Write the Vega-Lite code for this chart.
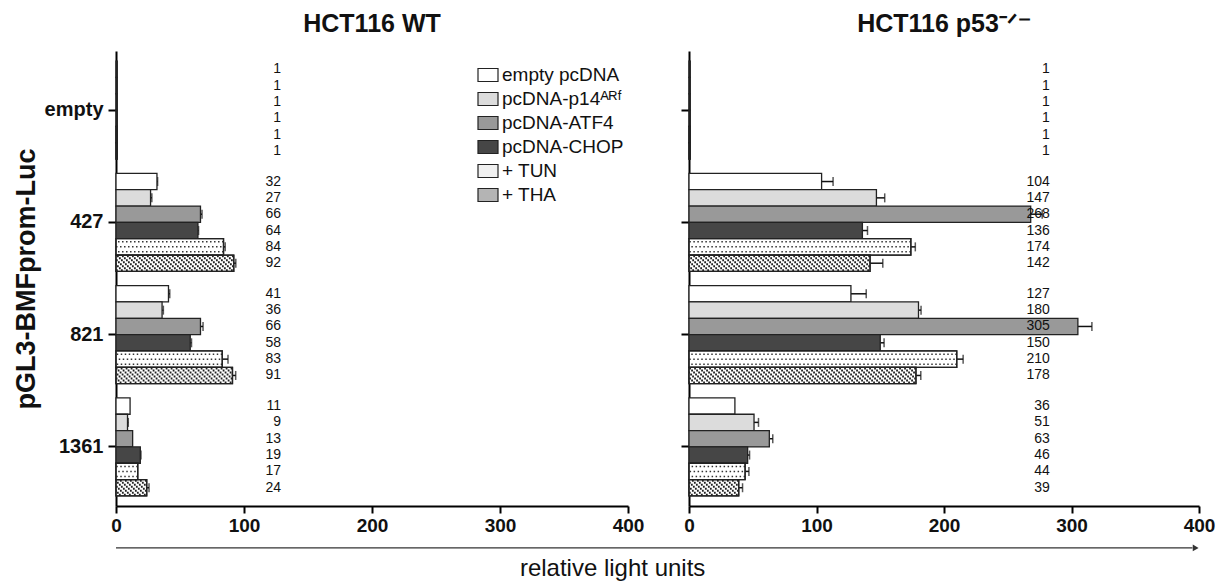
{
  "$schema": "https://vega.github.io/schema/vega-lite/v6.json",
  "padding": {"left": 12, "top": 12, "right": 5, "bottom": 0},
  "config": {"font": "Liberation Sans", "view": {"stroke": null}},
  "datasets": {
    "d": [
      {"c": "WT", "p": "empty", "t": "empty pcDNA", "v": 1, "hi": 1},
      {"c": "WT", "p": "empty", "t": "pcDNA-p14ᴬᴿᶠ", "v": 1, "hi": 1},
      {"c": "WT", "p": "empty", "t": "pcDNA-ATF4", "v": 1, "hi": 1},
      {"c": "WT", "p": "empty", "t": "pcDNA-CHOP", "v": 1, "hi": 1},
      {"c": "WT", "p": "empty", "t": "+ TUN", "v": 1, "hi": 1},
      {"c": "WT", "p": "empty", "t": "+ THA", "v": 1, "hi": 1},
      {"c": "WT", "p": "427", "t": "empty pcDNA", "v": 32, "hi": 32.5},
      {"c": "WT", "p": "427", "t": "pcDNA-p14ᴬᴿᶠ", "v": 27, "hi": 28},
      {"c": "WT", "p": "427", "t": "pcDNA-ATF4", "v": 66, "hi": 67.2},
      {"c": "WT", "p": "427", "t": "pcDNA-CHOP", "v": 64, "hi": 64.5},
      {"c": "WT", "p": "427", "t": "+ TUN", "v": 84, "hi": 85.3},
      {"c": "WT", "p": "427", "t": "+ THA", "v": 92, "hi": 93.6},
      {"c": "WT", "p": "821", "t": "empty pcDNA", "v": 41, "hi": 42},
      {"c": "WT", "p": "821", "t": "pcDNA-p14ᴬᴿᶠ", "v": 36, "hi": 37},
      {"c": "WT", "p": "821", "t": "pcDNA-ATF4", "v": 66, "hi": 68},
      {"c": "WT", "p": "821", "t": "pcDNA-CHOP", "v": 58, "hi": 59},
      {"c": "WT", "p": "821", "t": "+ TUN", "v": 83, "hi": 87.5},
      {"c": "WT", "p": "821", "t": "+ THA", "v": 91, "hi": 93.5},
      {"c": "WT", "p": "1361", "t": "empty pcDNA", "v": 11, "hi": 11},
      {"c": "WT", "p": "1361", "t": "pcDNA-p14ᴬᴿᶠ", "v": 9, "hi": 9.6},
      {"c": "WT", "p": "1361", "t": "pcDNA-ATF4", "v": 13, "hi": 13},
      {"c": "WT", "p": "1361", "t": "pcDNA-CHOP", "v": 19, "hi": 19.5},
      {"c": "WT", "p": "1361", "t": "+ TUN", "v": 17, "hi": 17},
      {"c": "WT", "p": "1361", "t": "+ THA", "v": 24, "hi": 25.8},
      {"c": "p53", "p": "empty", "t": "empty pcDNA", "v": 1, "hi": 1},
      {"c": "p53", "p": "empty", "t": "pcDNA-p14ᴬᴿᶠ", "v": 1, "hi": 1},
      {"c": "p53", "p": "empty", "t": "pcDNA-ATF4", "v": 1, "hi": 1},
      {"c": "p53", "p": "empty", "t": "pcDNA-CHOP", "v": 1, "hi": 1},
      {"c": "p53", "p": "empty", "t": "+ TUN", "v": 1, "hi": 1},
      {"c": "p53", "p": "empty", "t": "+ THA", "v": 1, "hi": 1},
      {"c": "p53", "p": "427", "t": "empty pcDNA", "v": 104, "hi": 113},
      {"c": "p53", "p": "427", "t": "pcDNA-p14ᴬᴿᶠ", "v": 147, "hi": 153.5},
      {"c": "p53", "p": "427", "t": "pcDNA-ATF4", "v": 268, "hi": 277},
      {"c": "p53", "p": "427", "t": "pcDNA-CHOP", "v": 136, "hi": 140},
      {"c": "p53", "p": "427", "t": "+ TUN", "v": 174, "hi": 177.5},
      {"c": "p53", "p": "427", "t": "+ THA", "v": 142, "hi": 152},
      {"c": "p53", "p": "821", "t": "empty pcDNA", "v": 127, "hi": 139},
      {"c": "p53", "p": "821", "t": "pcDNA-p14ᴬᴿᶠ", "v": 180, "hi": 182},
      {"c": "p53", "p": "821", "t": "pcDNA-ATF4", "v": 305, "hi": 316},
      {"c": "p53", "p": "821", "t": "pcDNA-CHOP", "v": 150, "hi": 153},
      {"c": "p53", "p": "821", "t": "+ TUN", "v": 210, "hi": 215},
      {"c": "p53", "p": "821", "t": "+ THA", "v": 178, "hi": 181.8},
      {"c": "p53", "p": "1361", "t": "empty pcDNA", "v": 36, "hi": 36},
      {"c": "p53", "p": "1361", "t": "pcDNA-p14ᴬᴿᶠ", "v": 51, "hi": 54.5},
      {"c": "p53", "p": "1361", "t": "pcDNA-ATF4", "v": 63, "hi": 65.7},
      {"c": "p53", "p": "1361", "t": "pcDNA-CHOP", "v": 46, "hi": 47.5},
      {"c": "p53", "p": "1361", "t": "+ TUN", "v": 44, "hi": 47},
      {"c": "p53", "p": "1361", "t": "+ THA", "v": 39, "hi": 42}
    ]
  },
  "spacing": 61,
  "bounds": "flush",
  "resolve": {"scale": {"fill": "independent"}, "legend": {"fill": "independent"}},
  "hconcat": [
    {
      "width": 512, "height": 455,
      "data": {"name": "d"},
      "transform": [{"filter": "datum.c === 'WT'"}],
      "title": {"text": "HCT116 WT", "fontSize": 25, "fontWeight": "bold", "frame": "group", "offset": 14, "color": "#111"},
      "layer": [
        {"transform": [{"filter": "datum.hi > datum.v + 0.3"}],
         "mark": {"type": "rule", "color": "#111", "strokeWidth": 1.5},
         "encoding": {
           "y": {"field": "p", "type": "nominal", "scale": {"domain": ["empty", "427", "821", "1361"], "paddingInner": 0.127, "paddingOuter": 0.09}},
           "x": {"field": "v", "type": "quantitative", "scale": {"domain": [0, 400], "nice": false}}, "x2": {"field": "hi"},
           "yOffset": {"field": "t", "type": "nominal", "scale": {"domain": ["empty pcDNA", "pcDNA-p14ᴬᴿᶠ", "pcDNA-ATF4", "pcDNA-CHOP", "+ TUN", "+ THA"], "paddingInner": 0, "paddingOuter": 0}}}},
        {"transform": [{"filter": "datum.hi > datum.v + 0.3"}],
         "mark": {"type": "tick", "orient": "vertical", "color": "#111", "thickness": 1.5, "size": 9},
         "encoding": {
           "y": {"field": "p", "type": "nominal", "scale": {"domain": ["empty", "427", "821", "1361"], "paddingInner": 0.127, "paddingOuter": 0.09}},
           "x": {"field": "hi", "type": "quantitative"},
           "yOffset": {"field": "t", "type": "nominal", "scale": {"domain": ["empty pcDNA", "pcDNA-p14ᴬᴿᶠ", "pcDNA-ATF4", "pcDNA-CHOP", "+ TUN", "+ THA"], "paddingInner": 0, "paddingOuter": 0}}}},
        {"mark": {"type": "bar", "stroke": "#222", "strokeWidth": 1.3},
         "encoding": {
           "y": {"field": "p", "type": "nominal", "scale": {"domain": ["empty", "427", "821", "1361"], "paddingInner": 0.127, "paddingOuter": 0.09},
             "axis": {"title": "pGL3-BMFprom-Luc", "titleFontSize": 27, "titleFontWeight": "bold", "titleColor": "#111", "titlePadding": 4, "labelFontSize": 20, "labelFontWeight": "bold", "labelColor": "#111", "labelPadding": 5, "tickSize": 8, "tickWidth": 2, "tickColor": "#000", "domainColor": "#000", "domainWidth": 2, "grid": false}},
           "x": {"field": "v", "type": "quantitative", "scale": {"domain": [0, 400], "nice": false},
             "axis": {"values": [0, 100, 200, 300, 400], "title": null, "grid": false, "labelFontSize": 19, "labelFontWeight": "bold", "labelColor": "#111", "labelPadding": 3, "tickSize": 7, "tickWidth": 2, "tickColor": "#000", "domainColor": "#000", "domainWidth": 2, "labelFlush": false}},
           "yOffset": {"field": "t", "type": "nominal", "scale": {"domain": ["empty pcDNA", "pcDNA-p14ᴬᴿᶠ", "pcDNA-ATF4", "pcDNA-CHOP", "+ TUN", "+ THA"], "paddingInner": 0, "paddingOuter": 0}},
           "fill": {"condition": [
             {"test": "datum.t === 'pcDNA-p14ᴬᴿᶠ'", "value": "#dcdcdc"},
             {"test": "datum.t === 'pcDNA-ATF4'", "value": "#999999"},
             {"test": "datum.t === 'pcDNA-CHOP'", "value": "#464646"}], "value": "#ffffff"}
         }},
        {"transform": [{"filter": "datum.t === '+ TUN' && datum.v > 1"}], "mark": {"type": "rule", "color": "#333", "strokeWidth": 1.5, "strokeDash": [1.5, 2.5], "strokeDashOffset": 0, "yOffset": 19.5}, "encoding": {"y": {"field": "p", "type": "nominal", "scale": {"domain": ["empty", "427", "821", "1361"], "paddingInner": 0.127, "paddingOuter": 0.09}}, "x": {"field": "v", "type": "quantitative"}, "x2": {"datum": 0}}},
        {"transform": [{"filter": "datum.t === '+ TUN' && datum.v > 1"}], "mark": {"type": "rule", "color": "#333", "strokeWidth": 1.5, "strokeDash": [1.5, 2.5], "strokeDashOffset": 2, "yOffset": 24.5}, "encoding": {"y": {"field": "p", "type": "nominal", "scale": {"domain": ["empty", "427", "821", "1361"], "paddingInner": 0.127, "paddingOuter": 0.09}}, "x": {"field": "v", "type": "quantitative"}, "x2": {"datum": 0}}},
        {"transform": [{"filter": "datum.t === '+ TUN' && datum.v > 1"}], "mark": {"type": "rule", "color": "#333", "strokeWidth": 1.5, "strokeDash": [1.5, 2.5], "strokeDashOffset": 0, "yOffset": 29.5}, "encoding": {"y": {"field": "p", "type": "nominal", "scale": {"domain": ["empty", "427", "821", "1361"], "paddingInner": 0.127, "paddingOuter": 0.09}}, "x": {"field": "v", "type": "quantitative"}, "x2": {"datum": 0}}},
        {"transform": [{"filter": "datum.t === '+ THA' && datum.v > 1"}], "mark": {"type": "rule", "color": "#222", "strokeWidth": 2.05, "strokeDash": [1.8, 3.2], "strokeDashOffset": 0, "yOffset": 33.8}, "encoding": {"y": {"field": "p", "type": "nominal", "scale": {"domain": ["empty", "427", "821", "1361"], "paddingInner": 0.127, "paddingOuter": 0.09}}, "x": {"field": "v", "type": "quantitative"}, "x2": {"datum": 0}}},
        {"transform": [{"filter": "datum.t === '+ THA' && datum.v > 1"}], "mark": {"type": "rule", "color": "#222", "strokeWidth": 2.05, "strokeDash": [1.8, 3.2], "strokeDashOffset": 2, "yOffset": 35.8}, "encoding": {"y": {"field": "p", "type": "nominal", "scale": {"domain": ["empty", "427", "821", "1361"], "paddingInner": 0.127, "paddingOuter": 0.09}}, "x": {"field": "v", "type": "quantitative"}, "x2": {"datum": 0}}},
        {"transform": [{"filter": "datum.t === '+ THA' && datum.v > 1"}], "mark": {"type": "rule", "color": "#222", "strokeWidth": 2.05, "strokeDash": [1.8, 3.2], "strokeDashOffset": 4, "yOffset": 37.8}, "encoding": {"y": {"field": "p", "type": "nominal", "scale": {"domain": ["empty", "427", "821", "1361"], "paddingInner": 0.127, "paddingOuter": 0.09}}, "x": {"field": "v", "type": "quantitative"}, "x2": {"datum": 0}}},
        {"transform": [{"filter": "datum.t === '+ THA' && datum.v > 1"}], "mark": {"type": "rule", "color": "#222", "strokeWidth": 2.05, "strokeDash": [1.8, 3.2], "strokeDashOffset": 1, "yOffset": 39.8}, "encoding": {"y": {"field": "p", "type": "nominal", "scale": {"domain": ["empty", "427", "821", "1361"], "paddingInner": 0.127, "paddingOuter": 0.09}}, "x": {"field": "v", "type": "quantitative"}, "x2": {"datum": 0}}},
        {"transform": [{"filter": "datum.t === '+ THA' && datum.v > 1"}], "mark": {"type": "rule", "color": "#222", "strokeWidth": 2.05, "strokeDash": [1.8, 3.2], "strokeDashOffset": 3, "yOffset": 41.8}, "encoding": {"y": {"field": "p", "type": "nominal", "scale": {"domain": ["empty", "427", "821", "1361"], "paddingInner": 0.127, "paddingOuter": 0.09}}, "x": {"field": "v", "type": "quantitative"}, "x2": {"datum": 0}}},
        {"transform": [{"filter": "datum.t === '+ THA' && datum.v > 1"}], "mark": {"type": "rule", "color": "#222", "strokeWidth": 2.05, "strokeDash": [1.8, 3.2], "strokeDashOffset": 0, "yOffset": 43.8}, "encoding": {"y": {"field": "p", "type": "nominal", "scale": {"domain": ["empty", "427", "821", "1361"], "paddingInner": 0.127, "paddingOuter": 0.09}}, "x": {"field": "v", "type": "quantitative"}, "x2": {"datum": 0}}},
        {"transform": [{"filter": "datum.t === '+ THA' && datum.v > 1"}], "mark": {"type": "rule", "color": "#222", "strokeWidth": 2.05, "strokeDash": [1.8, 3.2], "strokeDashOffset": 2, "yOffset": 45.8}, "encoding": {"y": {"field": "p", "type": "nominal", "scale": {"domain": ["empty", "427", "821", "1361"], "paddingInner": 0.127, "paddingOuter": 0.09}}, "x": {"field": "v", "type": "quantitative"}, "x2": {"datum": 0}}},
        {"transform": [{"filter": "datum.t === '+ THA' && datum.v > 1"}], "mark": {"type": "rule", "color": "#222", "strokeWidth": 2.05, "strokeDash": [1.8, 3.2], "strokeDashOffset": 4, "yOffset": 47.8}, "encoding": {"y": {"field": "p", "type": "nominal", "scale": {"domain": ["empty", "427", "821", "1361"], "paddingInner": 0.127, "paddingOuter": 0.09}}, "x": {"field": "v", "type": "quantitative"}, "x2": {"datum": 0}}},
        {"transform": [{"filter": "datum.t === '+ TUN' || datum.t === '+ THA'"}],
         "mark": {"type": "bar", "fillOpacity": 0, "stroke": "#222", "strokeWidth": 1.3},
         "encoding": {
           "y": {"field": "p", "type": "nominal", "scale": {"domain": ["empty", "427", "821", "1361"], "paddingInner": 0.127, "paddingOuter": 0.09}},
           "x": {"field": "v", "type": "quantitative"},
           "yOffset": {"field": "t", "type": "nominal", "scale": {"domain": ["empty pcDNA", "pcDNA-p14ᴬᴿᶠ", "pcDNA-ATF4", "pcDNA-CHOP", "+ TUN", "+ THA"], "paddingInner": 0, "paddingOuter": 0}}}},
        {"mark": {"type": "text", "align": "right", "baseline": "middle", "fontSize": 14, "color": "#111"},
         "encoding": {
           "y": {"field": "p", "type": "nominal", "scale": {"domain": ["empty", "427", "821", "1361"], "paddingInner": 0.127, "paddingOuter": 0.09}},
           "x": {"datum": 129, "type": "quantitative"},
           "yOffset": {"field": "t", "type": "nominal", "scale": {"domain": ["empty pcDNA", "pcDNA-p14ᴬᴿᶠ", "pcDNA-ATF4", "pcDNA-CHOP", "+ TUN", "+ THA"], "paddingInner": 0, "paddingOuter": 0}},
           "text": {"field": "v", "type": "quantitative"}}},
        {"transform": [{"filter": "datum.t === '+ THA' && datum.p === '1361'"}],
         "mark": {"type": "rule", "color": "#333", "strokeWidth": 1.2, "yOffset": 101},
         "encoding": {
           "y": {"datum": "1361", "type": "nominal", "scale": {"domain": ["empty", "427", "821", "1361"], "paddingInner": 0.127, "paddingOuter": 0.09}},
           "x": {"datum": 0, "type": "quantitative"}, "x2": {"datum": 841}}},
        {"transform": [{"filter": "datum.t === '+ THA' && datum.p === '1361'"}],
         "mark": {"type": "point", "shape": "triangle-right", "filled": true, "color": "#333", "opacity": 1, "size": 45, "yOffset": 101},
         "encoding": {
           "y": {"datum": "1361", "type": "nominal", "scale": {"domain": ["empty", "427", "821", "1361"], "paddingInner": 0.127, "paddingOuter": 0.09}},
           "x": {"datum": 843.5, "type": "quantitative"}}},
        {"transform": [{"filter": "datum.t === '+ THA' && datum.p === '1361'"}],
         "mark": {"type": "text", "fontSize": 24, "color": "#111", "align": "center", "baseline": "middle", "yOffset": 122, "text": "relative light units"},
         "encoding": {
           "y": {"datum": "1361", "type": "nominal", "scale": {"domain": ["empty", "427", "821", "1361"], "paddingInner": 0.127, "paddingOuter": 0.09}},
           "x": {"datum": 388, "type": "quantitative"}}},
        {"transform": [{"filter": "datum.v > 100000"}],
         "mark": {"type": "bar", "stroke": "#222", "strokeWidth": 1.2},
         "encoding": {
           "y": {"field": "p", "type": "nominal", "scale": {"domain": ["empty", "427", "821", "1361"], "paddingInner": 0.127, "paddingOuter": 0.09}},
           "x": {"field": "v", "type": "quantitative"},
           "yOffset": {"field": "t", "type": "nominal", "scale": {"domain": ["empty pcDNA", "pcDNA-p14ᴬᴿᶠ", "pcDNA-ATF4", "pcDNA-CHOP", "+ TUN", "+ THA"], "paddingInner": 0, "paddingOuter": 0}},
           "fill": {"field": "t", "type": "nominal",
             "scale": {"domain": ["empty pcDNA", "pcDNA-p14ᴬᴿᶠ", "pcDNA-ATF4", "pcDNA-CHOP", "+ TUN", "+ THA"],
               "range": ["#ffffff", "#dcdcdc", "#999999", "#464646", "#f0f0f0", "#b4b4b4"]},
             "legend": {"orient": "none", "legendX": 361, "legendY": 13, "title": null, "symbolType": "M-1,-0.65L1,-0.65L1,0.65L-1,0.65Z", "symbolSize": 400, "symbolStrokeColor": "#222", "symbolStrokeWidth": 1.2, "symbolOpacity": 1, "labelFontSize": 19, "labelColor": "#111", "labelOffset": 3, "rowPadding": 3, "padding": 0, "labelLimit": 300}}}}
      ]
    },
    {
      "width": 510, "height": 455,
      "data": {"name": "d"},
      "transform": [{"filter": "datum.c === 'p53'"}],
      "title": {"text": "HCT116 p53⁻ᐟ⁻", "fontSize": 25, "fontWeight": "bold", "frame": "group", "offset": 14, "color": "#111"},
      "layer": [
        {"transform": [{"filter": "datum.hi > datum.v + 0.3"}],
         "mark": {"type": "rule", "color": "#111", "strokeWidth": 1.5},
         "encoding": {
           "y": {"field": "p", "type": "nominal", "scale": {"domain": ["empty", "427", "821", "1361"], "paddingInner": 0.127, "paddingOuter": 0.09}},
           "x": {"field": "v", "type": "quantitative", "scale": {"domain": [0, 400], "nice": false}}, "x2": {"field": "hi"},
           "yOffset": {"field": "t", "type": "nominal", "scale": {"domain": ["empty pcDNA", "pcDNA-p14ᴬᴿᶠ", "pcDNA-ATF4", "pcDNA-CHOP", "+ TUN", "+ THA"], "paddingInner": 0, "paddingOuter": 0}}}},
        {"transform": [{"filter": "datum.hi > datum.v + 0.3"}],
         "mark": {"type": "tick", "orient": "vertical", "color": "#111", "thickness": 1.5, "size": 9},
         "encoding": {
           "y": {"field": "p", "type": "nominal", "scale": {"domain": ["empty", "427", "821", "1361"], "paddingInner": 0.127, "paddingOuter": 0.09}},
           "x": {"field": "hi", "type": "quantitative"},
           "yOffset": {"field": "t", "type": "nominal", "scale": {"domain": ["empty pcDNA", "pcDNA-p14ᴬᴿᶠ", "pcDNA-ATF4", "pcDNA-CHOP", "+ TUN", "+ THA"], "paddingInner": 0, "paddingOuter": 0}}}},
        {"mark": {"type": "bar", "stroke": "#222", "strokeWidth": 1.3},
         "encoding": {
           "y": {"field": "p", "type": "nominal", "scale": {"domain": ["empty", "427", "821", "1361"], "paddingInner": 0.127, "paddingOuter": 0.09},
             "axis": {"title": null, "labels": false, "tickSize": 8, "tickWidth": 2, "tickColor": "#000", "domainColor": "#000", "domainWidth": 2, "grid": false}},
           "x": {"field": "v", "type": "quantitative", "scale": {"domain": [0, 400], "nice": false},
             "axis": {"values": [0, 100, 200, 300, 400], "title": null, "grid": false, "labelFontSize": 19, "labelFontWeight": "bold", "labelColor": "#111", "labelPadding": 3, "tickSize": 7, "tickWidth": 2, "tickColor": "#000", "domainColor": "#000", "domainWidth": 2, "labelFlush": false}},
           "yOffset": {"field": "t", "type": "nominal", "scale": {"domain": ["empty pcDNA", "pcDNA-p14ᴬᴿᶠ", "pcDNA-ATF4", "pcDNA-CHOP", "+ TUN", "+ THA"], "paddingInner": 0, "paddingOuter": 0}},
           "fill": {"condition": [
             {"test": "datum.t === 'pcDNA-p14ᴬᴿᶠ'", "value": "#dcdcdc"},
             {"test": "datum.t === 'pcDNA-ATF4'", "value": "#999999"},
             {"test": "datum.t === 'pcDNA-CHOP'", "value": "#464646"}], "value": "#ffffff"}
         }},
        {"transform": [{"filter": "datum.t === '+ TUN' && datum.v > 1"}], "mark": {"type": "rule", "color": "#333", "strokeWidth": 1.5, "strokeDash": [1.5, 2.5], "strokeDashOffset": 0, "yOffset": 19.5}, "encoding": {"y": {"field": "p", "type": "nominal", "scale": {"domain": ["empty", "427", "821", "1361"], "paddingInner": 0.127, "paddingOuter": 0.09}}, "x": {"field": "v", "type": "quantitative"}, "x2": {"datum": 0}}},
        {"transform": [{"filter": "datum.t === '+ TUN' && datum.v > 1"}], "mark": {"type": "rule", "color": "#333", "strokeWidth": 1.5, "strokeDash": [1.5, 2.5], "strokeDashOffset": 2, "yOffset": 24.5}, "encoding": {"y": {"field": "p", "type": "nominal", "scale": {"domain": ["empty", "427", "821", "1361"], "paddingInner": 0.127, "paddingOuter": 0.09}}, "x": {"field": "v", "type": "quantitative"}, "x2": {"datum": 0}}},
        {"transform": [{"filter": "datum.t === '+ TUN' && datum.v > 1"}], "mark": {"type": "rule", "color": "#333", "strokeWidth": 1.5, "strokeDash": [1.5, 2.5], "strokeDashOffset": 0, "yOffset": 29.5}, "encoding": {"y": {"field": "p", "type": "nominal", "scale": {"domain": ["empty", "427", "821", "1361"], "paddingInner": 0.127, "paddingOuter": 0.09}}, "x": {"field": "v", "type": "quantitative"}, "x2": {"datum": 0}}},
        {"transform": [{"filter": "datum.t === '+ THA' && datum.v > 1"}], "mark": {"type": "rule", "color": "#222", "strokeWidth": 2.05, "strokeDash": [1.8, 3.2], "strokeDashOffset": 0, "yOffset": 33.8}, "encoding": {"y": {"field": "p", "type": "nominal", "scale": {"domain": ["empty", "427", "821", "1361"], "paddingInner": 0.127, "paddingOuter": 0.09}}, "x": {"field": "v", "type": "quantitative"}, "x2": {"datum": 0}}},
        {"transform": [{"filter": "datum.t === '+ THA' && datum.v > 1"}], "mark": {"type": "rule", "color": "#222", "strokeWidth": 2.05, "strokeDash": [1.8, 3.2], "strokeDashOffset": 2, "yOffset": 35.8}, "encoding": {"y": {"field": "p", "type": "nominal", "scale": {"domain": ["empty", "427", "821", "1361"], "paddingInner": 0.127, "paddingOuter": 0.09}}, "x": {"field": "v", "type": "quantitative"}, "x2": {"datum": 0}}},
        {"transform": [{"filter": "datum.t === '+ THA' && datum.v > 1"}], "mark": {"type": "rule", "color": "#222", "strokeWidth": 2.05, "strokeDash": [1.8, 3.2], "strokeDashOffset": 4, "yOffset": 37.8}, "encoding": {"y": {"field": "p", "type": "nominal", "scale": {"domain": ["empty", "427", "821", "1361"], "paddingInner": 0.127, "paddingOuter": 0.09}}, "x": {"field": "v", "type": "quantitative"}, "x2": {"datum": 0}}},
        {"transform": [{"filter": "datum.t === '+ THA' && datum.v > 1"}], "mark": {"type": "rule", "color": "#222", "strokeWidth": 2.05, "strokeDash": [1.8, 3.2], "strokeDashOffset": 1, "yOffset": 39.8}, "encoding": {"y": {"field": "p", "type": "nominal", "scale": {"domain": ["empty", "427", "821", "1361"], "paddingInner": 0.127, "paddingOuter": 0.09}}, "x": {"field": "v", "type": "quantitative"}, "x2": {"datum": 0}}},
        {"transform": [{"filter": "datum.t === '+ THA' && datum.v > 1"}], "mark": {"type": "rule", "color": "#222", "strokeWidth": 2.05, "strokeDash": [1.8, 3.2], "strokeDashOffset": 3, "yOffset": 41.8}, "encoding": {"y": {"field": "p", "type": "nominal", "scale": {"domain": ["empty", "427", "821", "1361"], "paddingInner": 0.127, "paddingOuter": 0.09}}, "x": {"field": "v", "type": "quantitative"}, "x2": {"datum": 0}}},
        {"transform": [{"filter": "datum.t === '+ THA' && datum.v > 1"}], "mark": {"type": "rule", "color": "#222", "strokeWidth": 2.05, "strokeDash": [1.8, 3.2], "strokeDashOffset": 0, "yOffset": 43.8}, "encoding": {"y": {"field": "p", "type": "nominal", "scale": {"domain": ["empty", "427", "821", "1361"], "paddingInner": 0.127, "paddingOuter": 0.09}}, "x": {"field": "v", "type": "quantitative"}, "x2": {"datum": 0}}},
        {"transform": [{"filter": "datum.t === '+ THA' && datum.v > 1"}], "mark": {"type": "rule", "color": "#222", "strokeWidth": 2.05, "strokeDash": [1.8, 3.2], "strokeDashOffset": 2, "yOffset": 45.8}, "encoding": {"y": {"field": "p", "type": "nominal", "scale": {"domain": ["empty", "427", "821", "1361"], "paddingInner": 0.127, "paddingOuter": 0.09}}, "x": {"field": "v", "type": "quantitative"}, "x2": {"datum": 0}}},
        {"transform": [{"filter": "datum.t === '+ THA' && datum.v > 1"}], "mark": {"type": "rule", "color": "#222", "strokeWidth": 2.05, "strokeDash": [1.8, 3.2], "strokeDashOffset": 4, "yOffset": 47.8}, "encoding": {"y": {"field": "p", "type": "nominal", "scale": {"domain": ["empty", "427", "821", "1361"], "paddingInner": 0.127, "paddingOuter": 0.09}}, "x": {"field": "v", "type": "quantitative"}, "x2": {"datum": 0}}},
        {"transform": [{"filter": "datum.t === '+ TUN' || datum.t === '+ THA'"}],
         "mark": {"type": "bar", "fillOpacity": 0, "stroke": "#222", "strokeWidth": 1.3},
         "encoding": {
           "y": {"field": "p", "type": "nominal", "scale": {"domain": ["empty", "427", "821", "1361"], "paddingInner": 0.127, "paddingOuter": 0.09}},
           "x": {"field": "v", "type": "quantitative"},
           "yOffset": {"field": "t", "type": "nominal", "scale": {"domain": ["empty pcDNA", "pcDNA-p14ᴬᴿᶠ", "pcDNA-ATF4", "pcDNA-CHOP", "+ TUN", "+ THA"], "paddingInner": 0, "paddingOuter": 0}}}},
        {"mark": {"type": "text", "align": "right", "baseline": "middle", "fontSize": 14, "color": "#111"},
         "encoding": {
           "y": {"field": "p", "type": "nominal", "scale": {"domain": ["empty", "427", "821", "1361"], "paddingInner": 0.127, "paddingOuter": 0.09}},
           "x": {"datum": 283, "type": "quantitative"},
           "yOffset": {"field": "t", "type": "nominal", "scale": {"domain": ["empty pcDNA", "pcDNA-p14ᴬᴿᶠ", "pcDNA-ATF4", "pcDNA-CHOP", "+ TUN", "+ THA"], "paddingInner": 0, "paddingOuter": 0}},
           "text": {"field": "v", "type": "quantitative"}}}
      ]
    }
  ]
}
